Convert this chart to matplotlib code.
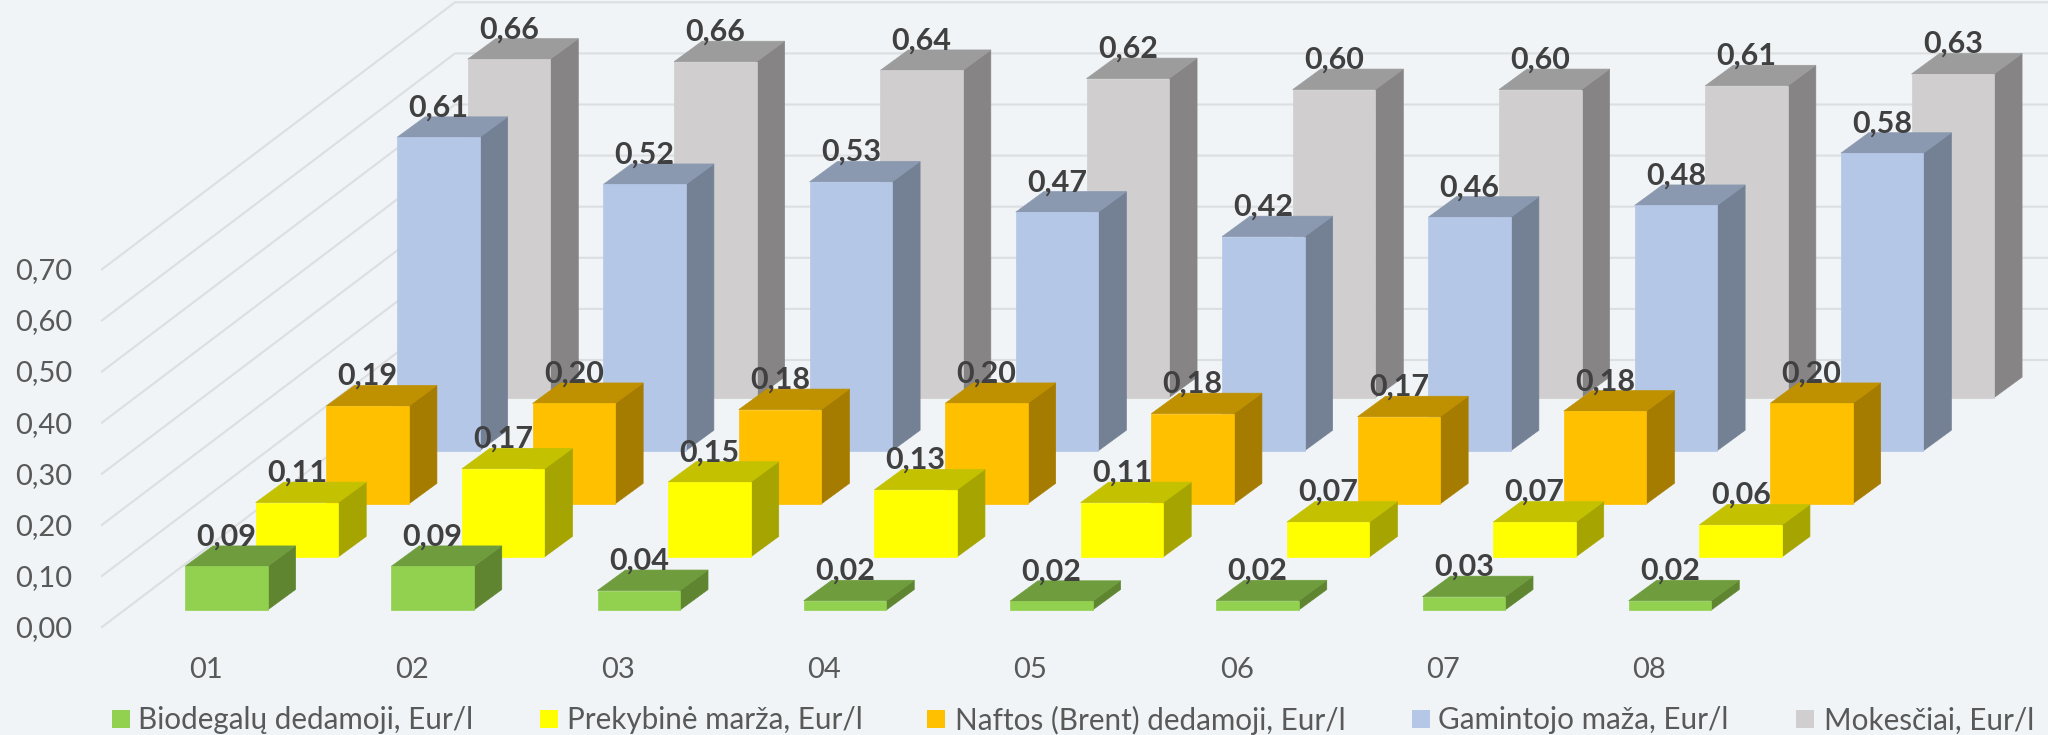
import matplotlib
matplotlib.use("Agg")
import matplotlib.pyplot as plt
from matplotlib.patches import Polygon, Rectangle

plt.rcParams['font.family'] = ['Lato', 'Open Sans', 'DejaVu Sans']

# ---- data ----
months = ['01', '02', '03', '04', '05', '06', '07', '08']
biodegalu = [0.0851, 0.0851, 0.038, 0.018, 0.017, 0.018, 0.026, 0.018]
prekybine = [0.106, 0.172, 0.146, 0.131, 0.106, 0.068, 0.068, 0.0625]
naftos = [0.191, 0.196, 0.184, 0.196, 0.176, 0.170, 0.181, 0.196]
gamintojo = [0.612, 0.520, 0.525, 0.466, 0.418, 0.456, 0.479, 0.581]
mokesciai = [0.661, 0.656, 0.639, 0.623, 0.6016, 0.6016, 0.609, 0.632]
series_names = ['Biodegalų dedamoji, Eur/l', 'Prekybinė marža, Eur/l',
                'Naftos (Brent) dedamoji, Eur/l', 'Gamintojo maža, Eur/l',
                'Mokesčiai, Eur/l']
y_ticks = [0.0, 0.1, 0.2, 0.3, 0.4, 0.5, 0.6, 0.7]

series_values = [biodegalu, prekybine, naftos, gamintojo, mokesciai]
front_colors = ['#92D050', '#FFFF00', '#FFC000', '#B4C7E7', '#D0CECE']
top_colors = ['#6F9D3D', '#C4C200', '#BF9000', '#8A99B0', '#9C9C9C']
side_colors = ['#5F8530', '#A6A400', '#A67C00', '#748094', '#868484']
BG = '#F0F4F7'
GRID = '#DCDFE2'
TICK = '#595959'
LABEL = '#404040'

# ---- oblique projection ----
X0, Y0 = 185.0, 610.0
CAT_STEP, SER_DX, SER_DY = 206.25, 70.7, 53.1
UNIT, BAR_W, DEPTH_X, DEPTH_Y = 512.0, 82.5, 28.0, 20.5


def project(cat, ser, val):
    return X0 + cat * CAT_STEP + ser * SER_DX, Y0 - ser * SER_DY - val * UNIT


fig = plt.figure(figsize=(20.48, 7.35), dpi=100, facecolor=BG)
ax = fig.add_axes([0, 0, 1, 1])
ax.set_xlim(0, 2048)
ax.set_ylim(735, 0)
ax.axis('off')

# walls
for v in y_ticks:
    yl, yb = 627 - v * 511, 360 - v * 511
    ax.plot([102, 455, 2048], [yl, yb, yb], color=GRID, lw=1.5, zorder=1,
            solid_joinstyle='miter')
    ax.text(72, yl + 2, f'{v:.2f}'.replace('.', ','), ha='right', va='center',
            fontsize=21, color=TICK, zorder=5)

# bars, back row first
for s in range(len(series_values) - 1, -1, -1):
    for c, v in enumerate(series_values[s]):
        xl, yt = project(c, s, v)
        _, yb = project(c, s, 0)
        xr = xl + BAR_W
        faces = [
            ([(xr, yb), (xr + DEPTH_X, yb - DEPTH_Y), (xr + DEPTH_X, yt - DEPTH_Y), (xr, yt)], side_colors[s]),
            ([(xl, yt), (xr, yt), (xr + DEPTH_X, yt - DEPTH_Y), (xl + DEPTH_X, yt - DEPTH_Y)], top_colors[s]),
            ([(xl, yb), (xr, yb), (xr, yt), (xl, yt)], front_colors[s]),
        ]
        for pts, col in faces:
            ax.add_patch(Polygon(pts, closed=True, facecolor=col, edgecolor=col,
                                 lw=0.5, zorder=2))

# data labels on top of all the bars
for s, vals in enumerate(series_values):
    for c, v in enumerate(vals):
        xl, yt = project(c, s, v)
        ax.text(xl + BAR_W / 2, yt - 21, f'{v:.2f}'.replace('.', ','), ha='center',
                va='baseline', fontsize=22, fontweight='bold', color=LABEL, zorder=6)

# category labels
for c, m in enumerate(months):
    ax.text(205.5 + c * CAT_STEP, 670, m, ha='center', va='center', fontsize=21,
            color=TICK, zorder=5)

# legend
swatch_x = [112, 540, 927, 1412, 1796]
text_x = [138, 567, 955, 1438.5, 1823.5]
for s, name in enumerate(series_names):
    ax.add_patch(Rectangle((swatch_x[s], 710), 18, 18, facecolor=front_colors[s],
                           edgecolor='none', zorder=5))
    ax.text(text_x[s], 720.5, name, ha='left', va='center', fontsize=21.3,
            color=TICK, zorder=5)

fig.savefig('out.png', dpi=100, facecolor=BG)
